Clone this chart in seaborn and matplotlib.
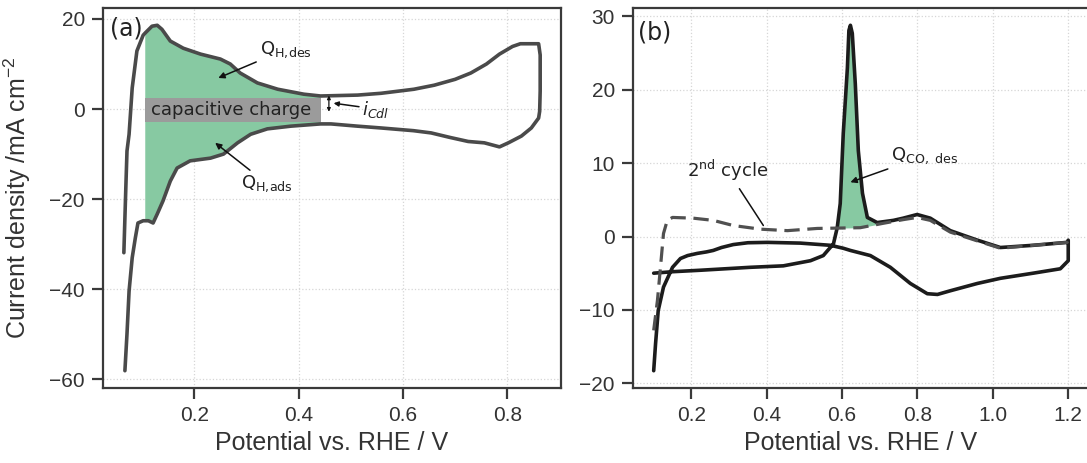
import numpy as np
import matplotlib
matplotlib.use("Agg")
import matplotlib.pyplot as plt
import seaborn as sns

## datos
# (a) voltamograma en blanco: barrido anodico y catodico
a_up_x = [0.065, 0.067, 0.069, 0.071, 0.075, 0.081, 0.090, 0.102, 0.106, 0.119, 0.129,
          0.138, 0.154, 0.179, 0.212, 0.250, 0.269, 0.288, 0.321, 0.360, 0.410, 0.442,
          0.513, 0.558, 0.621, 0.660, 0.700, 0.730, 0.760, 0.785, 0.810, 0.825, 0.860,
          0.863, 0.863]
a_up_y = [-31.9, -24.2, -16.6, -9.3, -5.6, 4.7, 12.9, 16.4, 16.9, 18.4, 18.6,
          17.7, 15.1, 13.5, 12.2, 11.1, 10.0, 8.0, 5.8, 4.4, 3.3, 2.9,
          3.1, 3.5, 4.4, 5.3, 6.6, 8.0, 10.0, 12.2, 13.9, 14.5, 14.5,
          12.0, 4.0]
a_down_x = [0.862, 0.860, 0.846, 0.827, 0.802, 0.785, 0.756, 0.725, 0.690, 0.654, 0.620,
            0.558, 0.513, 0.462, 0.442, 0.385, 0.340, 0.308, 0.283, 0.256, 0.231, 0.192,
            0.167, 0.154, 0.140, 0.129, 0.121, 0.112, 0.106, 0.102, 0.092, 0.087, 0.081,
            0.075, 0.071, 0.067]
a_down_y = [-0.5, -2.0, -4.2, -6.0, -7.5, -8.4, -7.5, -7.2, -6.3, -5.3, -4.8,
            -4.2, -3.8, -3.3, -3.3, -3.8, -4.4, -5.6, -7.5, -10.0, -10.9, -11.5,
            -13.1, -16.0, -20.4, -23.3, -25.3, -24.8, -24.8, -24.8, -25.3, -28.6, -33.0,
            -40.4, -49.9, -58.1]
h_lim = (0.106, 0.442)        # zona de adsorcion/desorcion de H
cap_band = (-2.9, 2.4)        # carga capacitiva

# (b) CO stripping, 1er ciclo (continuo) y 2do ciclo (discontinuo)
b1_x = [0.100, 0.150, 0.224, 0.356, 0.444, 0.516, 0.550, 0.577, 0.587, 0.595, 0.603,
        0.614, 0.618, 0.622, 0.627, 0.635, 0.643, 0.654, 0.667, 0.693, 0.736, 0.762,
        0.799, 0.834, 0.887, 0.959, 1.020, 1.107, 1.197, 1.200,
        1.200, 1.179, 1.107, 1.020, 0.959, 0.887, 0.853, 0.826, 0.781, 0.728, 0.675,
        0.622, 0.603, 0.569, 0.489, 0.402, 0.350, 0.311, 0.280, 0.258, 0.240, 0.216,
        0.190, 0.171, 0.150, 0.126, 0.112, 0.105, 0.100]
b1_y = [-5.0, -4.8, -4.6, -4.2, -4.0, -3.3, -2.6, -1.0, 1.2, 4.5, 14.0,
        23.0, 28.1, 28.8, 27.7, 20.8, 11.7, 5.9, 2.6, 1.9, 2.2, 2.5,
        3.0, 2.5, 0.8, -0.5, -1.5, -1.2, -0.8, -0.5,
        -3.3, -4.4, -5.0, -5.7, -6.4, -7.4, -7.9, -7.8, -6.4, -4.2, -2.6,
        -1.9, -1.6, -1.2, -0.9, -0.8, -0.85, -1.1, -1.5, -1.9, -2.1, -2.3,
        -2.6, -3.0, -4.2, -6.9, -10.1, -14.6, -18.3]
b2_x = [0.100, 0.110, 0.118, 0.126, 0.136, 0.150, 0.205, 0.258, 0.311, 0.383, 0.455,
        0.534, 0.648, 0.709, 0.762, 0.799, 0.834, 0.887, 0.959, 1.020, 1.107, 1.197, 1.200]
b2_y = [-12.8, -8.7, -4.2, 0.4, 2.2, 2.6, 2.5, 2.2, 1.5, 1.0, 0.8,
        1.1, 1.2, 1.8, 2.3, 2.6, 2.2, 0.6, -0.6, -1.6, -1.2, -0.8, -0.5]
co_lim = (0.587, 0.693)
n_anod_b1 = 30

sns.set_theme(style="ticks")
plt.rcParams["font.family"] = ["Liberation Sans", "DejaVu Sans"]
verde = "#87c9a2"
txt = dict(family="DejaVu Sans", size=13, color="#222222")

fig = plt.figure(figsize=(10.87, 4.63), dpi=100)
ax1 = fig.add_axes([0.0948, 0.162, 0.4213, 0.8207])
ax2 = fig.add_axes([0.5823, 0.162, 0.4195, 0.8207])

## panel (a)
ux, uy = np.array(a_up_x), np.array(a_up_y)
dx, dy = np.array(a_down_x), np.array(a_down_y)
mu = (ux >= h_lim[0]) & (ux <= h_lim[1])
md = (dx >= h_lim[0]) & (dx <= h_lim[1])
ax1.fill(np.r_[ux[mu], dx[md]], np.r_[uy[mu], dy[md]], color=verde, lw=0, zorder=1)
ax1.fill_between(h_lim, cap_band[0], cap_band[1], color="#9b9b9b", lw=0, zorder=2)
sns.lineplot(x=np.r_[ux, dx], y=np.r_[uy, dy], sort=False, estimator=None, ax=ax1,
             color="#4a4a4a", lw=2.6, zorder=3)
ax1.text(0.271, -0.25, "capacitive charge", ha="center", va="center", zorder=4, **txt)

flecha = dict(arrowstyle="-|>", color="#111111", lw=1.1, mutation_scale=9, shrinkA=0, shrinkB=0)
ax1.annotate("Q$_\\mathregular{H,\\!des}$", xy=(0.246, 6.9), xytext=(0.325, 13.2),
             ha="left", va="center", arrowprops=flecha, **txt)
ax1.annotate("Q$_\\mathregular{H,\\!ads}$", xy=(0.240, -7.5), xytext=(0.290, -16.6),
             ha="left", va="center", arrowprops=flecha, **txt)
ax1.annotate("$i_{Cdl}$", xy=(0.467, 1.3), xytext=(0.522, 0.0),
             ha="left", va="center", arrowprops=dict(flecha, mutation_scale=7), **txt)
ax1.annotate("", xy=(0.458, 3.0), xytext=(0.458, -0.6),
             arrowprops=dict(arrowstyle="<|-|>", color="#111111", lw=0.9, mutation_scale=5,
                             shrinkA=0, shrinkB=0))
ax1.text(0.015, 0.978, "(a)", transform=ax1.transAxes, ha="left", va="top",
         family="DejaVu Sans", size=17, color="#222222")
ax1.set_xticks([0.2, 0.4, 0.6, 0.8])
ax1.set_yticks([-60, -40, -20, 0, 20])
ax1.set_ylabel("Current density /mA cm$^{\\mathregular{-2}}$", size=18, color="#333333", labelpad=12)

## panel (b)
px, py = np.array(b1_x[:n_anod_b1]), np.array(b1_y[:n_anod_b1])
mc = (px >= co_lim[0]) & (px <= co_lim[1])
base = np.interp(px[mc], b2_x, b2_y)
ax2.fill_between(px[mc], base, py[mc], where=py[mc] >= base, color=verde, lw=0, zorder=1)
sns.lineplot(x=b1_x, y=b1_y, sort=False, estimator=None, ax=ax2, color="#1c1c1c", lw=2.6, zorder=3)
sns.lineplot(x=b2_x, y=b2_y, sort=False, estimator=None, ax=ax2, color="#505050", lw=2.3,
             zorder=4).lines[-1].set_dashes([4.8, 2.4])
ax2.annotate("2$^\\mathregular{nd}$ cycle", xy=(0.391, 1.5), xytext=(0.188, 9.0),
             ha="left", va="center",
             arrowprops=dict(arrowstyle="-", color="#111111", lw=1.1, shrinkA=2, shrinkB=0), **txt)
ax2.annotate("Q$_\\mathregular{CO,\\ des}$", xy=(0.622, 7.4), xytext=(0.730, 11.0),
             ha="left", va="center", arrowprops=flecha, **txt)
ax2.text(0.011, 0.968, "(b)", transform=ax2.transAxes, ha="left", va="top",
         family="DejaVu Sans", size=17, color="#222222")
ax2.set_xticks([0.2, 0.4, 0.6, 0.8, 1.0, 1.2])
ax2.set_yticks([-20, -10, 0, 10, 20, 30])

for ax in (ax1, ax2):
    ax.grid(True, linestyle=":", color="#d6d6d6", lw=0.9)
    ax.set_axisbelow(True)
    for s in ax.spines.values():
        s.set_color("#3a3a3a")
        s.set_linewidth(1.6)
    ax.tick_params(length=8, width=1.6, color="#3a3a3a", labelsize=15, labelcolor="#333333", pad=5)
    ax.set_xlabel("Potential vs. RHE / V", size=18, color="#333333", labelpad=4)

fig.savefig("out.png", dpi=100)
